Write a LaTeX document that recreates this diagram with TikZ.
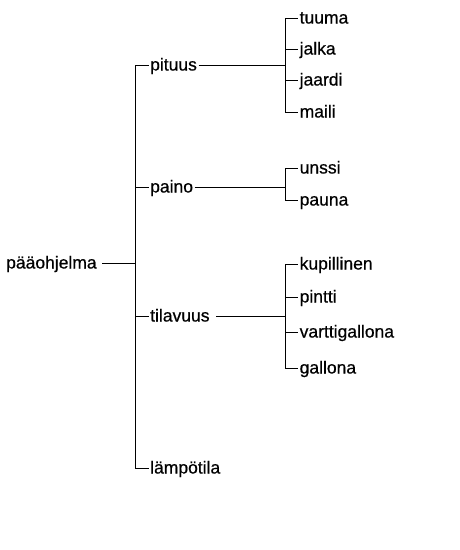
\documentclass[tikz,border=0pt]{standalone}
\usepackage{fontspec}
\setmainfont{Liberation Sans}[UprightFeatures={FakeBold=0.6}]
\usetikzlibrary{positioning}
\tikzstyle{item} = [anchor=west, inner xsep=1.5pt, inner ysep=0pt, text height=11pt, text depth=0pt, font=\fontsize{17.5}{20}\selectfont]
\tikzstyle{link} = [black, line width=1pt]

\begin{document}
\begin{tikzpicture}[x=1pt, y=-1pt]
	\useasboundingbox (0,0) rectangle (460,550);
	\node (main) at (4.5,263) [item] {pääohjelma};
	\coordinate (fork) at (135,263);
	\draw [link] ([xshift=4pt]main.east) -- (fork);

	% first level
	\node (length) at (148.5,65) [item] {pituus};
	\node (weight) at (148.5,187) [item] {paino};
	\node (volume) at (148.5,316) [item] {tilavuus};
	\node (temp) at (148.5,468) [item] {lämpötila};
	\foreach \n in {length,weight,volume,temp}
		\draw [link] (fork) |- (\n.west);

	% lengths
	\coordinate (length_fork) at (285,65);
	\draw [link] (length.east) -- (length_fork);
	\node (inch) at (298,18) [item] {tuuma};
	\node (foot) at (298,49) [item] {jalka};
	\node (yard) at (298,80) [item] {jaardi};
	\node (mile) at (298,112) [item] {maili};
	\foreach \n in {inch,foot,yard,mile}
		\draw [link] (length_fork) |- (\n.west);

	% weights
	\coordinate (weight_fork) at (285,187);
	\draw [link] (weight.east) -- (weight_fork);
	\node (ounce) at (298,168) [item] {unssi};
	\node (pound) at (298,200) [item] {pauna};
	\foreach \n in {ounce,pound}
		\draw [link] (weight_fork) |- (\n.west);

	% volumes
	\coordinate (volume_fork) at (285,316);
	\draw [link] ([xshift=5pt]volume.east) -- (volume_fork);
	\node (cup) at (298,264) [item] {kupillinen};
	\node (pint) at (298,297) [item] {pintti};
	\node (quart) at (298,332) [item] {varttigallona};
	\node (gallon) at (298,368) [item] {gallona};
	\foreach \n in {cup,pint,quart,gallon}
		\draw [link] (volume_fork) |- (\n.west);
\end{tikzpicture}
\end{document}
